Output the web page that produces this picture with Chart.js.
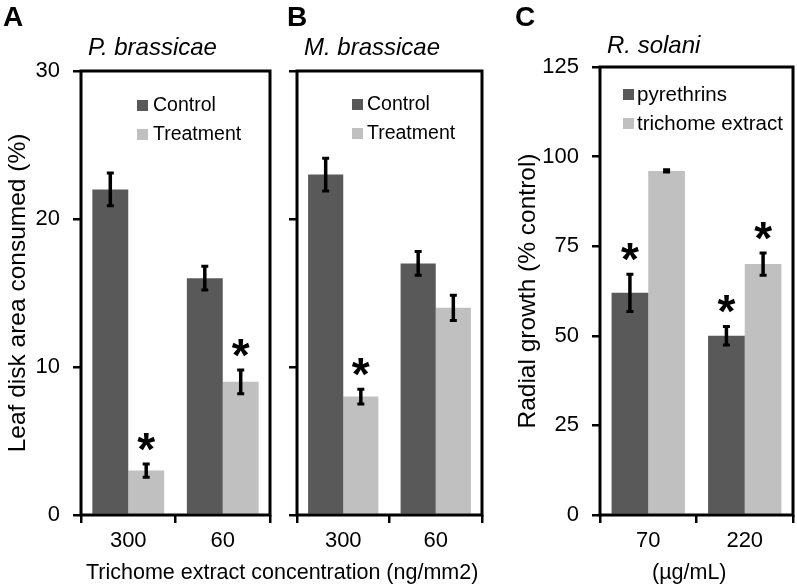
<!DOCTYPE html>
<html>
<head>
<meta charset="utf-8">
<script src="https://cdn.jsdelivr.net/npm/chart.js@4.4.1/dist/chart.umd.min.js"></script>
<style>
  body { margin: 0; background: #fff; width: 797px; height: 585px; overflow: hidden; position: relative;
         font-family: "Liberation Sans", Arial, sans-serif; color: #000; }
  canvas { position: absolute; top: 0; }
  .lbl { position: absolute; white-space: nowrap; }
  .panel { font-size: 28px; font-weight: bold; line-height: 28px; }
  .xt { font-size: 21.5px; line-height: 22px; }
</style>
</head>
<body>
<canvas id="chartA" width="282" height="585" style="left:0"></canvas>
<canvas id="chartB" width="218" height="585" style="left:282px"></canvas>
<canvas id="chartC" width="287" height="585" style="left:510px"></canvas>

<div class="lbl panel" style="left:3px;top:3px">A</div>
<div class="lbl panel" style="left:287px;top:3px">B</div>
<div class="lbl panel" style="left:515px;top:3px">C</div>
<div class="lbl xt" style="left:86px;top:561px">Trichome extract concentration (ng/mm2)</div>
<div class="lbl xt" style="left:652px;top:561px">(µg/mL)</div>

<script>
// Panel A - P. brassicae
const catsA = ['300', '60'];
const controlA = [22, 16];
const controlErrA = [1.1, 0.8];
const treatA = [3, 9];
const treatErrA = [0.45, 0.8];
const treatStarA = [true, true];

// Panel B - M. brassicae
const catsB = ['300', '60'];
const controlB = [23, 17];
const controlErrB = [1.1, 0.8];
const treatB = [8, 14];
const treatErrB = [0.5, 0.85];
const treatStarB = [true, false];

// Panel C - R. solani
const catsC = ['70', '220'];
const pyrC = [62, 50];
const pyrErrC = [5.2, 2.6];
const pyrStarC = [true, true];
const tricC = [96, 70];
const tricErrC = [0.3, 3.1];
const tricStarC = [false, true];

const DARK = '#595959';
const LIGHT = '#c0c0c0';
const FONT = '"Liberation Sans", Arial, sans-serif';

function decoPlugin(cfg) {
    return {
        id: 'deco',
        afterDatasetsDraw(chart) {
            const ctx = chart.ctx;
            const area = chart.chartArea;
            const y = chart.scales.y;
            ctx.save();
            // error bars and stars
            chart.data.datasets.forEach((ds, di) => {
                const meta = chart.getDatasetMeta(di);
                meta.data.forEach((bar, i) => {
                    const v = ds.data[i], e = ds.errors[i];
                    const yt = y.getPixelForValue(v + e);
                    const yb = y.getPixelForValue(v - e);
                    ctx.strokeStyle = '#000';
                    ctx.lineWidth = 3.5;
                    ctx.beginPath();
                    ctx.moveTo(bar.x, yt);
                    ctx.lineTo(bar.x, yb);
                    ctx.stroke();
                    ctx.lineWidth = 3;
                    ctx.beginPath();
                    ctx.moveTo(bar.x - 3.5, yt); ctx.lineTo(bar.x + 3.5, yt);
                    ctx.moveTo(bar.x - 3.5, yb); ctx.lineTo(bar.x + 3.5, yb);
                    ctx.stroke();
                    if (ds.stars[i]) {
                        ctx.fillStyle = '#000';
                        ctx.font = 'bold 46px ' + FONT;
                        ctx.textAlign = 'center';
                        ctx.textBaseline = 'alphabetic';
                        ctx.fillText('*', bar.x, yt - 25 + 26);
                    }
                });
            });
            // frame
            ctx.strokeStyle = '#000';
            ctx.lineWidth = 3;
            ctx.strokeRect(area.left, area.top, area.right - area.left, area.bottom - area.top);
            // species title
            ctx.fillStyle = '#000';
            ctx.font = 'italic 24px ' + FONT;
            ctx.textAlign = 'left';
            ctx.textBaseline = 'middle';
            ctx.fillText(cfg.title, area.left + 7, cfg.titleY);
            // legend
            ctx.font = cfg.legendSize + 'px ' + FONT;
            chart.data.datasets.forEach((ds, di) => {
                const cy = area.top + cfg.legendTop + di * 29;
                const sx = area.left + cfg.legendLeft;
                ctx.fillStyle = ds.backgroundColor;
                ctx.fillRect(sx, cy - 5, 11, 11);
                ctx.fillStyle = '#000';
                ctx.fillText(ds.label, sx + cfg.textGap, cy + 1);
            });
            ctx.restore();
        }
    };
}

function makePanel(id, cats, sets, yMax, yStep, yTitle, showTickLabels, yWidth, pad) {
    return new Chart(document.getElementById(id), {
        type: 'bar',
        data: {
            labels: cats,
            datasets: sets.map(s => ({
                label: s.label,
                data: s.data,
                errors: s.errors,
                stars: s.stars,
                backgroundColor: s.color,
                borderWidth: 0,
                categoryPercentage: 0.76,
                barPercentage: 1.0
            }))
        },
        options: {
            responsive: false,
            animation: false,
            devicePixelRatio: 1,
            layout: { padding: pad.layout },
            plugins: { legend: { display: false }, tooltip: { enabled: false }, title: { display: false } },
            scales: {
                x: {
                    grid: { offset: true, drawOnChartArea: false, drawTicks: true, tickLength: 8, color: '#000', lineWidth: 2.5 },
                    border: { display: false },
                    ticks: { color: '#000', font: { family: FONT, size: 22 }, padding: 5 },
                    afterFit: s => { s.height = 70; }
                },
                y: {
                    min: 0, max: yMax,
                    grid: { drawOnChartArea: false, drawTicks: true, tickLength: 8, color: '#000', lineWidth: 2.5 },
                    border: { display: false },
                    ticks: {
                        stepSize: yStep, color: '#000', padding: 13,
                        font: { family: FONT, size: 22 },
                        callback: v => showTickLabels ? v : ''
                    },
                    title: {
                        display: !!yTitle, text: yTitle, color: '#000',
                        font: { family: FONT, size: 24.5 }, padding: 4
                    },
                    afterFit: s => { s.width = yWidth; }
                }
            }
        },
        plugins: [decoPlugin(pad.deco)]
    });
}

makePanel('chartA', catsA, [
    { label: 'Control', data: controlA, errors: controlErrA, stars: [false, false], color: DARK },
    { label: 'Treatment', data: treatA, errors: treatErrA, stars: treatStarA, color: LIGHT }
], 30, 10, 'Leaf disk area consumed (%)', true, 81, {
    layout: { top: 71, right: 12, left: 0, bottom: 0 },
    deco: { title: 'P. brassicae', titleY: 48, legendTop: 34, legendLeft: 56, textGap: 16, legendSize: 19.5 }
});

makePanel('chartB', catsB, [
    { label: 'Control', data: controlB, errors: controlErrB, stars: [false, false], color: DARK },
    { label: 'Treatment', data: treatB, errors: treatErrB, stars: treatStarB, color: LIGHT }
], 30, 10, '', false, 15, {
    layout: { top: 71, right: 18, left: 0, bottom: 0 },
    deco: { title: 'M. brassicae', titleY: 48, legendTop: 33, legendLeft: 55, textGap: 15, legendSize: 19.5 }
});

makePanel('chartC', catsC, [
    { label: 'pyrethrins', data: pyrC, errors: pyrErrC, stars: pyrStarC, color: DARK },
    { label: 'trichome extract', data: tricC, errors: tricErrC, stars: tricStarC, color: LIGHT }
], 125, 25, 'Radial growth (% control)', true, 90, {
    layout: { top: 67, right: 4, left: 0, bottom: 0 },
    deco: { title: 'R. solani', titleY: 46, legendTop: 27, legendLeft: 23, textGap: 14, legendSize: 20.5 }
});
</script>
</body>
</html>
